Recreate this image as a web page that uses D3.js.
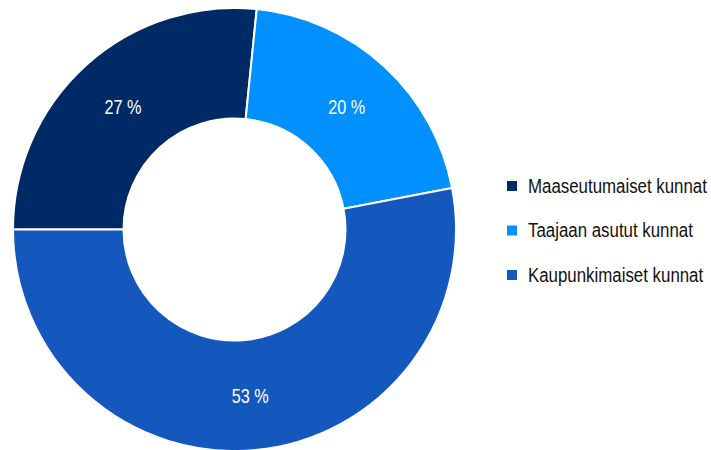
<!DOCTYPE html>
<html>
<head>
<meta charset="utf-8">
<script src="https://cdn.jsdelivr.net/npm/d3@7"></script>
<style>
  html, body { margin: 0; padding: 0; background: #ffffff; }
  svg { display: block; }
  text { font-family: "Liberation Sans", Arial, sans-serif; }
</style>
</head>
<body>
<svg id="chart" width="711" height="450"></svg>
<script>
const categories = ["Maaseutumaiset kunnat", "Taajaan asutut kunnat", "Kaupunkimaiset kunnat"];
const values = [26.6, 20.4, 53.0];
const colors = ["#002a66", "#0090ff", "#1458be"];

const svg = d3.select("#chart");
const cx = 234.5, cy = 229.5, outerR = 221.5, innerR = 111;

const pie = d3.pie().sort(null).value(d => d.value)
  .startAngle(-Math.PI / 2).endAngle(1.5 * Math.PI);
const arc = d3.arc().innerRadius(innerR).outerRadius(outerR);

const data = categories.map((c, i) => ({ name: c, value: values[i], color: colors[i] }));
const total = d3.sum(values);
const arcs = pie(data);

const g = svg.append("g").attr("transform", `translate(${cx},${cy})`);
g.selectAll("path").data(arcs).join("path")
  .attr("d", arc)
  .attr("fill", d => d.data.color)
  .attr("stroke", "#ffffff")
  .attr("stroke-width", 2);

// condensed look: measure natural width and squeeze horizontally
const pctScale = (() => {
  const t = svg.append("text").attr("font-size", 20).text("27 %");
  const w = t.node().getComputedTextLength();
  t.remove();
  return 37 / w;
})();

g.selectAll("text.lbl").data(arcs).join("text")
  .attr("class", "lbl")
  .attr("transform", d => { const [x, y] = arc.centroid(d); return `translate(${x},${y + 7.5}) scale(${pctScale},1)`; })
  .attr("text-anchor", "middle")
  .attr("fill", "#ffffff")
  .attr("font-size", 20)
  .text(d => Math.round(d.data.value / total * 100) + " %");

const legScale = (() => {
  const t = svg.append("text").attr("font-size", 19.5).text(categories[0]);
  const w = t.node().getComputedTextLength();
  t.remove();
  return 179 / w;
})();

const legend = svg.append("g").attr("transform", "translate(507,186)");
const items = legend.selectAll("g").data(data).join("g")
  .attr("transform", (d, i) => `translate(0,${i * 44.5})`);
items.append("rect").attr("x", 0).attr("y", -5).attr("width", 10).attr("height", 10)
  .attr("fill", d => d.color);
items.append("text")
  .attr("transform", `translate(21,6.5) scale(${legScale},1)`)
  .attr("font-size", 19.5).attr("fill", "#111111")
  .text(d => d.name);
</script>
</body>
</html>
